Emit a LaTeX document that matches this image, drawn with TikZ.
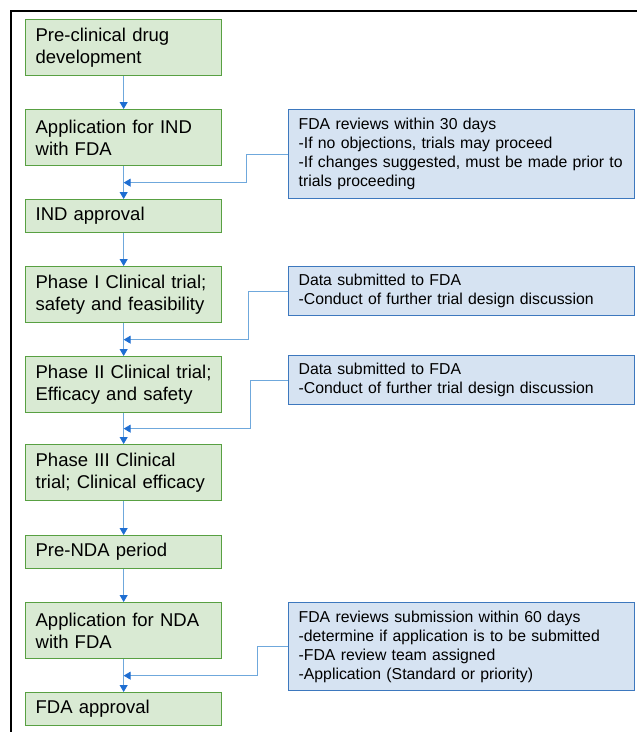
\documentclass[tikz,border=0pt]{standalone}
\usepackage{fontspec}
\setmainfont{Liberation Sans}
\definecolor{stagefill}{RGB}{217,234,211}
\definecolor{stageline}{RGB}{88,160,66}
\definecolor{notefill}{RGB}{214,227,242}
\definecolor{noteline}{RGB}{61,120,190}
\definecolor{flowline}{RGB}{111,168,220}
\definecolor{flowtip}{RGB}{30,110,210}
\usetikzlibrary{arrows.meta,positioning,calc}

\begin{document}
\begin{tikzpicture}[x=1pt, y=-1pt,
    stage/.style={rectangle, fill=stagefill, draw=stageline, line width=1.3pt,
                  anchor=north west, text width=176pt, inner xsep=10pt, inner ysep=0pt,
                  align=left, font=\fontsize{18.5}{21.5}\selectfont},
    note/.style={rectangle, fill=notefill, draw=noteline, line width=1.3pt,
                 anchor=north west, text width=326pt, inner xsep=10pt, inner ysep=0pt,
                 align=left, font=\fontsize{15.8}{19}\selectfont},
    flow/.style={draw=flowline, line width=0.9pt,
                 -{Triangle[width=8pt,length=7pt,color=flowtip]}}
  ]
    \useasboundingbox (0,0) rectangle (637,732);

    % open frame
    \draw[line width=2pt] (11,732) -- (11,11) -- (637,11);

    % Stages of the pathway
    \node[stage, minimum height=56pt] (s1) at (25,19)  {Pre-clinical drug\\development};
    \node[stage, minimum height=56pt] (s2) at (25,109) {Application for IND\\with FDA};
    \node[stage, minimum height=33pt] (s3) at (25,199) {IND approval};
    \node[stage, minimum height=56pt] (s4) at (25,266) {Phase I Clinical trial;\\safety and feasibility};
    \node[stage, minimum height=56pt] (s5) at (25,356) {Phase II Clinical trial;\\Efficacy and safety};
    \node[stage, minimum height=56pt] (s6) at (25,444) {Phase III Clinical\\trial; Clinical efficacy};
    \node[stage, minimum height=33pt] (s7) at (25,535) {Pre-NDA period};
    \node[stage, minimum height=56pt] (s8) at (25,602) {Application for NDA\\with FDA};
    \node[stage, minimum height=33pt] (s9) at (25,692) {FDA approval};

    % FDA notes
    \node[note, minimum height=89pt] (n1) at (288,109)
      {FDA reviews within 30 days\\-If no objections, trials may proceed\\-If changes suggested, must be made prior to\\trials proceeding};
    \node[note, minimum height=49pt] (n2) at (288,266)
      {Data submitted to FDA\\-Conduct of further trial design discussion};
    \node[note, minimum height=49pt] (n3) at (288,355)
      {Data submitted to FDA\\-Conduct of further trial design discussion};
    \node[note, minimum height=88pt] (n4) at (288,602)
      {FDA reviews submission within 60 days\\-determine if application is to be submitted\\-FDA review team assigned\\-Application (Standard or priority)};

    % main flow
    \foreach \a/\b in {s1/s2,s2/s3,s3/s4,s4/s5,s5/s6,s6/s7,s7/s8,s8/s9}
      \draw[flow] (\a.south) -- (\b.north);

    % joins on the main flow
    \coordinate (m1) at ($(s2.south)!0.5!(s3.north)$);
    \coordinate (m2) at ($(s4.south)!0.5!(s5.north)$);
    \coordinate (m3) at ($(s5.south)!0.5!(s6.north)$);
    \coordinate (m4) at ($(s8.south)!0.5!(s9.north)$);

    % notes feeding back
    \draw[flow] (n1.west) -- ++(-42,0) |- (m1);
    \draw[flow] (n2.west) -- ++(-40,0) |- (m2);
    \draw[flow] (n3.west) -- ++(-38,0) |- (m3);
    \draw[flow] (n4.west) -- ++(-31,0) |- (m4);
  \end{tikzpicture}
\end{document}
